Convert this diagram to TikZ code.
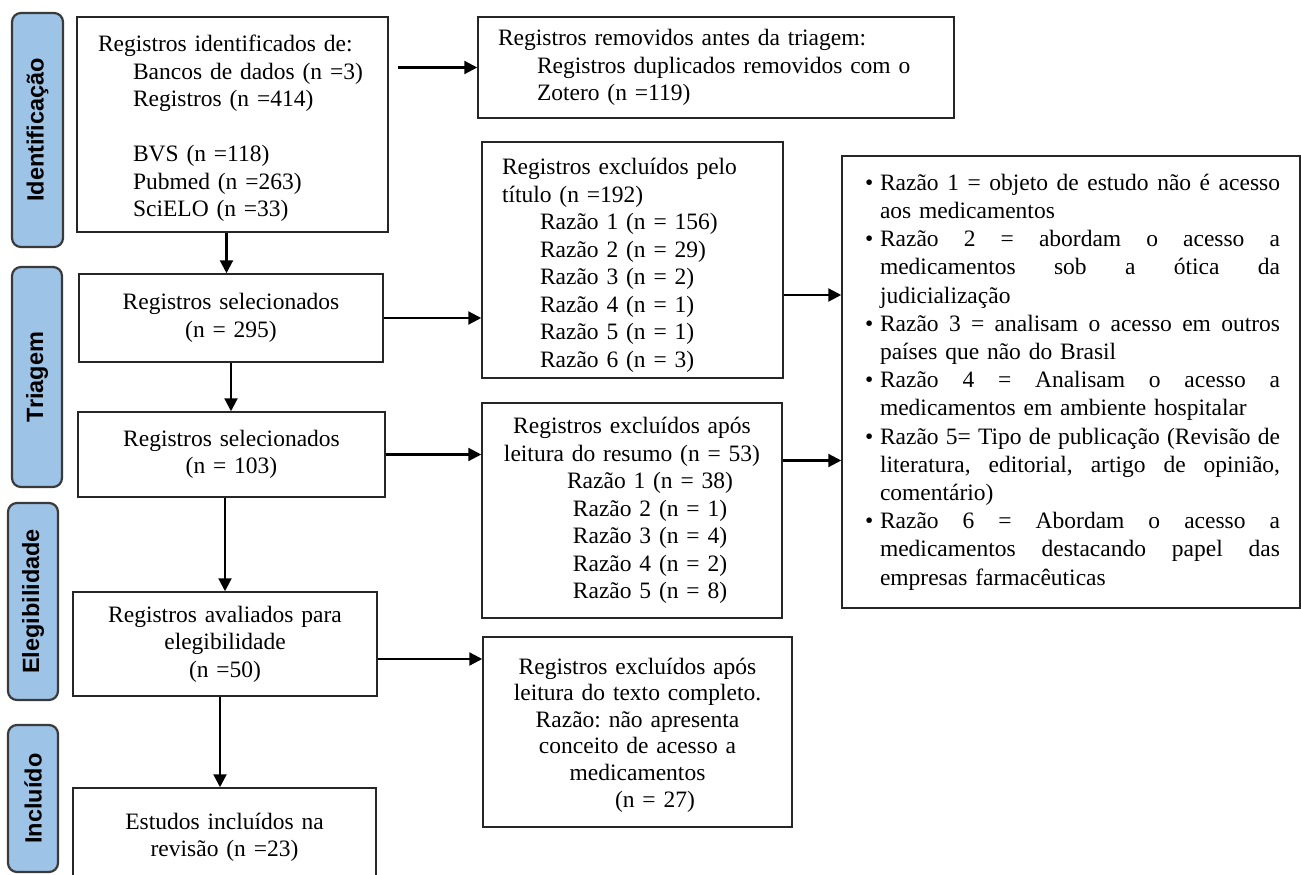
\documentclass[tikz,border=0pt]{standalone}
\usepackage{fontspec}
\setmainfont{Liberation Serif}
\setsansfont{Liberation Sans}
\usetikzlibrary{arrows.meta}
\definecolor{phasefill}{HTML}{9DC3E6}
\definecolor{phaseline}{HTML}{3A3A3A}
\frenchspacing
\newcommand{\rzjust}[1]{\hbox to 400pt{\frenchspacing\spaceskip=0.25em plus 1fil\relax #1}}
\newcommand{\rzitem}[1]{\hspace*{23pt}\makebox[15pt][l]{•}\rzjust{#1}}
\newcommand{\rzcont}[1]{\hspace*{38pt}\rzjust{#1}}
\newcommand{\rzlast}[1]{\hspace*{38pt}#1}
\begin{document}
\begin{tikzpicture}[x=1pt,y=-1pt,
  box/.style={draw=black!85, line width=1.5pt, inner sep=0pt, fill=white,
    font=\frenchspacing\fontsize{23.5}{27.5}\selectfont},
  phase/.style={draw=phaseline, line width=2.2pt, fill=phasefill, rounded corners=9pt,
    rotate=90, inner sep=0pt, font=\sffamily\bfseries\fontsize{23.5}{26}\selectfont},
  arr/.style={line width=2.2pt, -{Triangle[length=13pt,width=13pt]}}]
\useasboundingbox (0,0) rectangle (1301,875);
\clip (0,0) rectangle (1301,875);

% phase labels
\node[phase, minimum width=234pt, minimum height=51pt] (ph1) at (37.5,130) {Identificação};
\node[phase, minimum width=220pt, minimum height=50pt] (ph2) at (37,377) {Triagem};
\node[phase, minimum width=197pt, minimum height=50pt] (ph3) at (33,601.5) {Elegibilidade};
\node[phase, minimum width=147pt, minimum height=50pt] (ph4) at (33,798.5) {Incluído};

% left column
\node[box, minimum width=311pt, minimum height=215pt, text width=311pt, align=left] (ident) at (232.5,124.5)
  {\rule{0pt}{25pt}\hspace*{21pt}Registros identificados de:\\
   \hspace*{56pt}Bancos de dados (n =3)\\
   \hspace*{56pt}Registros (n =414)\\
   \mbox{}\\
   \hspace*{56pt}BVS (n =118)\\
   \hspace*{56pt}Pubmed (n =263)\\
   \hspace*{56pt}SciELO (n =33)};

\node[box, minimum width=304pt, minimum height=88pt, text width=304pt, align=center] (s295) at (231,318)
  {Registros selecionados\\ (n = 295)};

\node[box, minimum width=307pt, minimum height=85pt, text width=307pt, align=center] (s103) at (231.5,454.5)
  {Registros selecionados\\ (n = 103)};

\node[box, minimum width=304pt, minimum height=104pt, text width=304pt, align=center] (avaliados) at (225,644)
  {Registros avaliados para\\ elegibilidade\\ (n =50)};

\node[box, minimum width=303pt, minimum height=99pt, text width=303pt, align=center] (estudos) at (224.5,837.5)
  {Estudos incluídos na\\ revisão (n =23)};

% middle column
\node[box, minimum width=476pt, minimum height=101pt, text width=476pt, align=left] (removed) at (716,67.5)
  {\hspace*{20pt}Registros removidos antes da triagem:\\
   \hspace*{59pt}Registros duplicados removidos com o\\
   \hspace*{59pt}Zotero (n =119)};

\node[box, minimum width=301pt, minimum height=236pt, text width=301pt, align=left] (title) at (632.5,260)
  {\rule{0pt}{27pt}\hspace*{20pt}Registros excluídos pelo\\
   \hspace*{20pt}título (n =192)\\
   \hspace*{58pt}Razão 1 (n = 156)\\
   \hspace*{58pt}Razão 2 (n = 29)\\
   \hspace*{58pt}Razão 3 (n = 2)\\
   \hspace*{58pt}Razão 4 (n = 1)\\
   \hspace*{58pt}Razão 5 (n = 1)\\
   \hspace*{58pt}Razão 6 (n = 3)};

\node[box, minimum width=300pt, minimum height=215pt, text width=300pt, align=center] (abstract) at (632,510.5)
  {Registros excluídos após\\
   leitura do resumo (n = 53)\\
   \hspace*{36pt}Razão 1 (n = 38)\\
   \hspace*{36pt}Razão 2 (n = 1)\\
   \hspace*{36pt}Razão 3 (n = 4)\\
   \hspace*{36pt}Razão 4 (n = 2)\\
   \hspace*{36pt}Razão 5 (n = 8)};

\node[box, minimum width=309pt, minimum height=190pt, text width=309pt, align=center,
  font=\frenchspacing\fontsize{23.5}{26.6}\selectfont] (fulltext) at (637.5,732)
  {\rule{0pt}{22pt}Registros excluídos após\\
   leitura do texto completo.\\
   Razão: não apresenta\\
   conceito de acesso a\\
   medicamentos\\
   \hspace*{35pt}(n = 27)};

% right column
\node[box, minimum width=458pt, minimum height=452pt, text width=458pt, align=left,
  font=\frenchspacing\fontsize{23.5}{28.2}\selectfont] (reasons) at (1071,382)
  {\rzitem{Razão 1 = objeto de estudo não é acesso}\\
   \rzlast{aos medicamentos}\\
   \rzitem{Razão 2 = abordam o acesso a}\\
   \rzcont{medicamentos sob a ótica da}\\
   \rzlast{judicialização}\\
   \rzitem{Razão 3 = analisam o acesso em outros}\\
   \rzlast{países que não do Brasil}\\
   \rzitem{Razão 4 = Analisam o acesso a}\\
   \rzlast{medicamentos em ambiente hospitalar}\\
   \rzitem{Razão 5= Tipo de publicação (Revisão de}\\
   \rzcont{literatura, editorial, artigo de opinião,}\\
   \rzlast{comentário)}\\
   \rzitem{Razão 6 = Abordam o acesso a}\\
   \rzcont{medicamentos destacando papel das}\\
   \rzlast{empresas farmacêuticas}};

% connectors
\coordinate (a1) at ([xshift=9pt]ident.east);
\draw[arr] (a1 |- removed.west) -- (removed.west);
\coordinate (a2) at ([xshift=-6pt]ident.south);
\draw[arr] (a2) -- (a2 |- s295.north);
\draw[arr] (s295.south) -- (s295.south |- s103.north);
\draw[arr] (avaliados.north |- s103.south) -- (avaliados.north);
\coordinate (a5) at ([xshift=-5pt]avaliados.south);
\draw[arr] (a5) -- (a5 |- estudos.north);
\draw[arr] (s295.east) -- (s295.east -| title.west);
\draw[arr] (s103.east) -- (s103.east -| abstract.west);
\coordinate (a8) at ([yshift=-15pt]avaliados.east);
\draw[arr] (a8) -- (a8 -| fulltext.west);
\coordinate (a9) at ([yshift=-35pt]title.east);
\draw[arr] (a9) -- (a9 -| reasons.west);
\coordinate (a10) at ([yshift=50pt]abstract.east);
\draw[arr] (a10) -- (a10 -| reasons.west);
\end{tikzpicture}
\end{document}
